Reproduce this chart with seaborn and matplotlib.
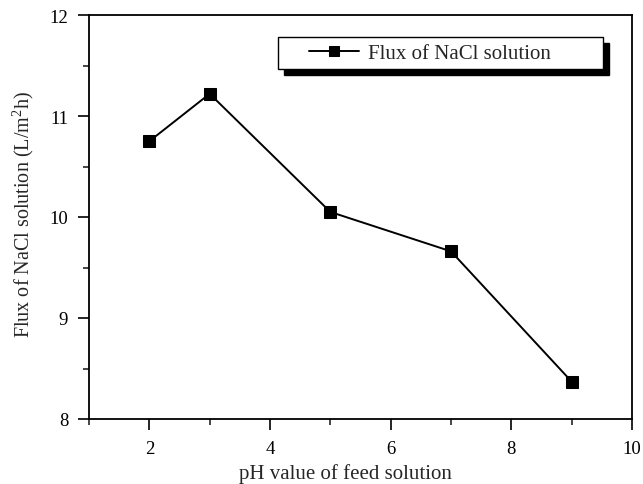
import matplotlib
matplotlib.use("Agg")
import matplotlib.pyplot as plt
import seaborn as sns
import pandas as pd
from matplotlib.patches import Rectangle
from matplotlib.ticker import MultipleLocator

ph = [2, 3, 5, 7, 9]
flux = [10.75, 11.22, 10.05, 9.66, 8.37]
series_label = "Flux of NaCl solution"
x_label = "pH value of feed solution"
y_label = r"Flux of NaCl solution (L/m$\mathregular{^2}$h)"

sns.set_style("ticks")
plt.rcParams["font.family"] = ["Liberation Serif", "DejaVu Serif"]
plt.rcParams["mathtext.fontset"] = "custom"
plt.rcParams["mathtext.rm"] = "Liberation Serif"

df = pd.DataFrame({"pH": ph, "flux": flux})

fig = plt.figure(figsize=(6.43, 4.85), dpi=100)
ax = fig.add_axes([89/643, 65/485, 543/643, 404/485])

sns.lineplot(data=df, x="pH", y="flux", ax=ax, color="black", linewidth=1.4,
             marker="s", markersize=8.6, markeredgecolor="black",
             markerfacecolor="black", label=series_label, legend=False)

ax.set_xlim(1, 10)
ax.set_ylim(8, 12)
ax.xaxis.set_major_locator(MultipleLocator(2))
ax.xaxis.set_minor_locator(MultipleLocator(1))
ax.yaxis.set_major_locator(MultipleLocator(1))
ax.yaxis.set_minor_locator(MultipleLocator(0.5))
ax.tick_params(which="major", direction="out", length=8, width=1.2,
               labelsize=13.5, colors="black", pad=7)
ax.tick_params(which="minor", direction="out", length=4.5, width=1.2)
ax.tick_params(top=False, right=False, which="both")
for s in ax.spines.values():
    s.set_visible(True)
    s.set_linewidth(1.3)
    s.set_color("black")

ax.set_xlabel(x_label, fontsize=15)
ax.set_ylabel(y_label, fontsize=14.5)
ax.xaxis.set_label_coords((345.5 - 89) / 543, -(464 - 420) / 404)
ax.yaxis.set_label_coords(-(89 - 36) / 543, 0.5 + (218 - 215) / 404)

# legend frame with shadow
x0 = (278 - 89) / 543
x1 = (603 - 89) / 543
y1 = 1 - (38 - 16) / 404
y0 = 1 - (70 - 16) / 404
dx = 6 / 543
dy = 6 / 404
ax.add_patch(Rectangle((x0 + dx, y0 - dy), x1 - x0, y1 - y0, transform=ax.transAxes,
                       facecolor="black", edgecolor="black", zorder=6, clip_on=False))
ax.add_patch(Rectangle((x0, y0), x1 - x0, y1 - y0, transform=ax.transAxes,
                       facecolor="white", edgecolor="black", linewidth=1.0, zorder=7,
                       clip_on=False))
leg = ax.legend(loc="center left", bbox_to_anchor=((309 - 89) / 543, (y0 + y1) / 2),
                frameon=False, fontsize=15, handlelength=2.4, handletextpad=0.43,
                borderpad=0, borderaxespad=0, markerscale=0.83)
leg.set_zorder(8)

fig.savefig("out.png", dpi=100)
